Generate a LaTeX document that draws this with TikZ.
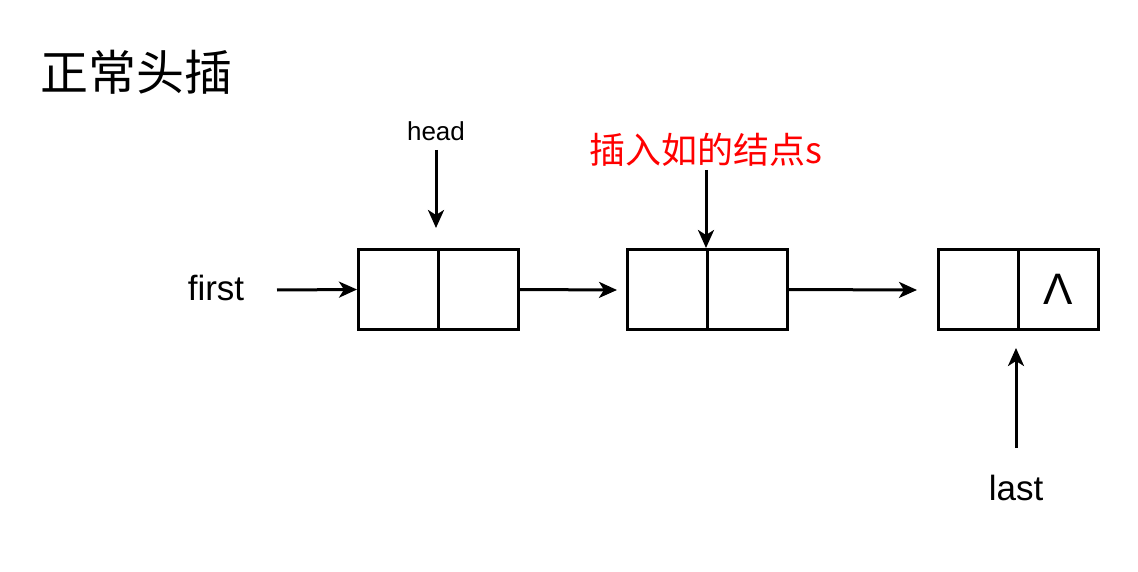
\documentclass[tikz,border=0pt]{standalone}
\usepackage{fontspec}
\setmainfont{Liberation Sans}
\newfontfamily\cjk{Noto Sans CJK SC}
\usetikzlibrary{arrows.meta}
\begin{document}
\begin{tikzpicture}[x=1pt,y=-1pt,
  cell/.style={draw,line width=3pt,minimum width=80pt,minimum height=80pt,inner sep=0pt,anchor=north west},
  arr/.style={line width=3pt,-{Stealth[length=18pt,width=16pt,inset=5pt]}},
  lbl/.style={inner sep=0pt}]
\useasboundingbox (0,0) rectangle (1138,572);
\node[lbl,anchor=west,font=\cjk\fontsize{48}{52}\selectfont] (title) at (40,72) {正常头插};
\node[cell] (a1) at (357,248) {};
\node[cell] (a2) at (437,248) {};
\node[cell] (b1) at (626,248) {};
\node[cell] (b2) at (706,248) {};
\node[cell] (c1) at (937,248) {};
\node[cell,font=\fontsize{44}{48}\selectfont] (c2) at (1017,248) {Λ};
\node[lbl,font=\fontsize{26}{30}\selectfont] (head) at (436,131) {head};
\node[lbl,text=red,font=\cjk\fontsize{36}{40}\selectfont] (ins) at (706,150) {插入如的结点s};
\node[lbl,font=\fontsize{35}{38}\selectfont] (first) at (216,288) {first};
\node[lbl,font=\fontsize{35}{38}\selectfont] (last) at (1016,488) {last};
\coordinate (hd) at (436,228);
\coordinate (bd) at (706,248);
\coordinate (fs) at (277,290);
\coordinate (ls) at (1016,448);
\coordinate (le) at (1016,348);
\draw[arr] (436,150) -- (hd);
\draw[arr] (706,170) -- (bd);
\draw[arr] (fs) -- (a1.west);
\draw[arr] (a2.east) -- (617,290);
\draw[arr] (b2.east) -- (917,290);
\draw[arr] (ls) -- (le);
\end{tikzpicture}
\end{document}
